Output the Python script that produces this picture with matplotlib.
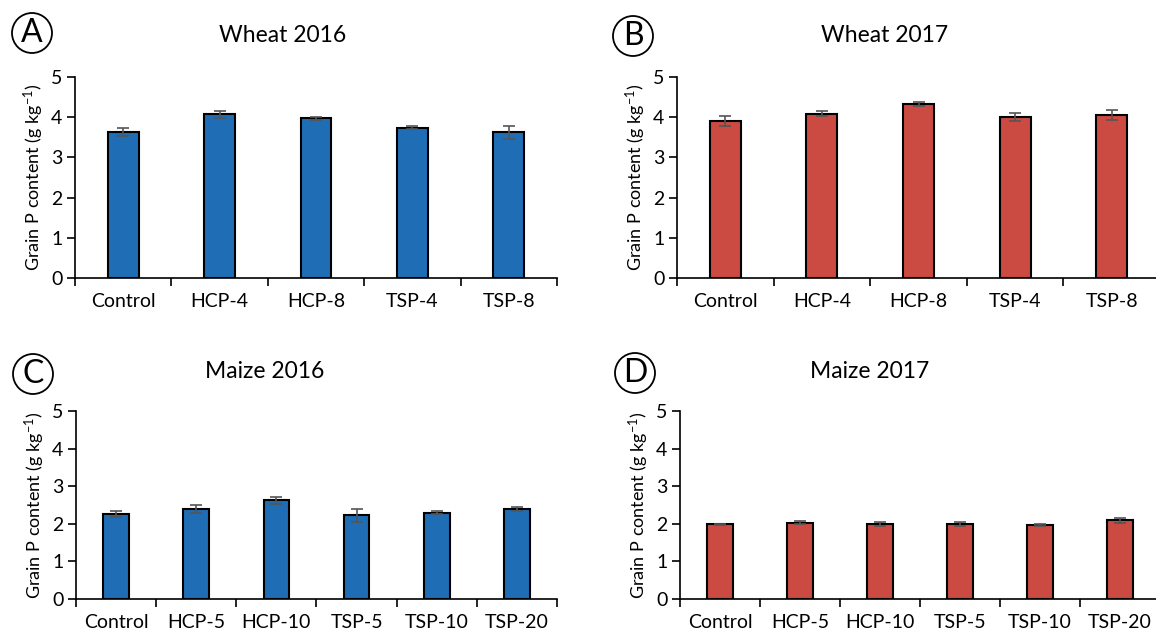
import matplotlib
matplotlib.use("Agg")
import matplotlib.pyplot as plt
import numpy as np
from matplotlib.patches import Ellipse

plt.rcParams["font.family"] = ["Lato", "DejaVu Sans"]
plt.rcParams["mathtext.fontset"] = "custom"
plt.rcParams["mathtext.rm"] = "Lato"
plt.rcParams["mathtext.it"] = "Lato"
plt.rcParams["mathtext.default"] = "regular"

wheat_cats = ["Control", "HCP-4", "HCP-8", "TSP-4", "TSP-8"]
maize_cats = ["Control", "HCP-5", "HCP-10", "TSP-5", "TSP-10", "TSP-20"]

wheat16 = [3.63, 4.07, 3.97, 3.74, 3.63]
wheat16_err = [0.10, 0.09, 0.03, 0.03, 0.16]
wheat17 = [3.90, 4.09, 4.33, 4.00, 4.06]
wheat17_err = [0.12, 0.06, 0.04, 0.10, 0.12]
maize16 = [2.26, 2.39, 2.62, 2.23, 2.30, 2.39]
maize16_err = [0.09, 0.10, 0.09, 0.17, 0.05, 0.06]
maize17 = [1.99, 2.03, 1.99, 2.00, 1.96, 2.09]
maize17_err = [0.01, 0.04, 0.06, 0.06, 0.03, 0.06]

BLUE = "#1f6eb5"
RED = "#cb4b43"

W, H = 1156, 634
fig = plt.figure(figsize=(W / 100, H / 100), dpi=100)


def px_axes(left, right, top, bottom):
    return fig.add_axes([left / W, 1 - bottom / H, (right - left) / W, (bottom - top) / H])


def panel(ax, cats, vals, errs, color, title, letter, title_xy, letter_xy):
    x = np.arange(len(cats))
    ax.bar(x, vals, width=0.32, color=color, edgecolor="black", linewidth=1.5, zorder=2)
    ax.errorbar(x, vals, yerr=errs, fmt="none", ecolor="#555555", elinewidth=1.2,
                capsize=4, capthick=1.2, zorder=3)
    ax.set_xlim(-0.5, len(cats) - 0.5)
    ax.set_ylim(0, 5)
    ax.set_yticks(range(6))
    ax.set_xticks(np.arange(len(cats) + 1) - 0.5)
    ax.set_xticklabels([])
    ax.set_xticks(x, minor=True)
    ax.set_xticklabels(cats, minor=True, fontsize=14)
    ax.tick_params(axis="x", which="minor", length=0, pad=11)
    ax.tick_params(axis="x", which="major", direction="out", length=6, width=1.2)
    ax.tick_params(axis="y", direction="out", length=6, width=1.2, labelsize=14, pad=3)
    for s in ("top", "right"):
        ax.spines[s].set_visible(False)
    for s in ("left", "bottom"):
        ax.spines[s].set_linewidth(1.2)
    ax.set_ylabel("Grain P content (g kg$^{-1}$)", fontsize=13, labelpad=4)
    fig.text(title_xy[0] / W, 1 - title_xy[1] / H, title, fontsize=16.5,
             ha="center", va="center")
    fig.text(letter_xy[0] / W, 1 - letter_xy[1] / H, letter, fontsize=23,
             ha="center", va="center")
    fig.patches.append(Ellipse((letter_xy[0] / W, 1 - letter_xy[1] / H), 40 / W, 40 / H,
                               transform=fig.transFigure, fill=False,
                               edgecolor="black", linewidth=1.3))


ax_a = px_axes(75, 557, 77, 278)
panel(ax_a, wheat_cats, wheat16, wheat16_err, BLUE, "Wheat 2016", "A", (283, 36), (32, 33))

ax_b = px_axes(677, 1160, 77, 278)
panel(ax_b, wheat_cats, wheat17, wheat17_err, RED, "Wheat 2017", "B", (885, 36), (633, 36))

ax_c = px_axes(76, 557, 411, 599)
panel(ax_c, maize_cats, maize16, maize16_err, BLUE, "Maize 2016", "C", (265, 372), (33, 374))

ax_d = px_axes(680, 1160, 411, 599)
panel(ax_d, maize_cats, maize17, maize17_err, RED, "Maize 2017", "D", (870, 371), (635, 373))

fig.savefig("out.png", dpi=100)
